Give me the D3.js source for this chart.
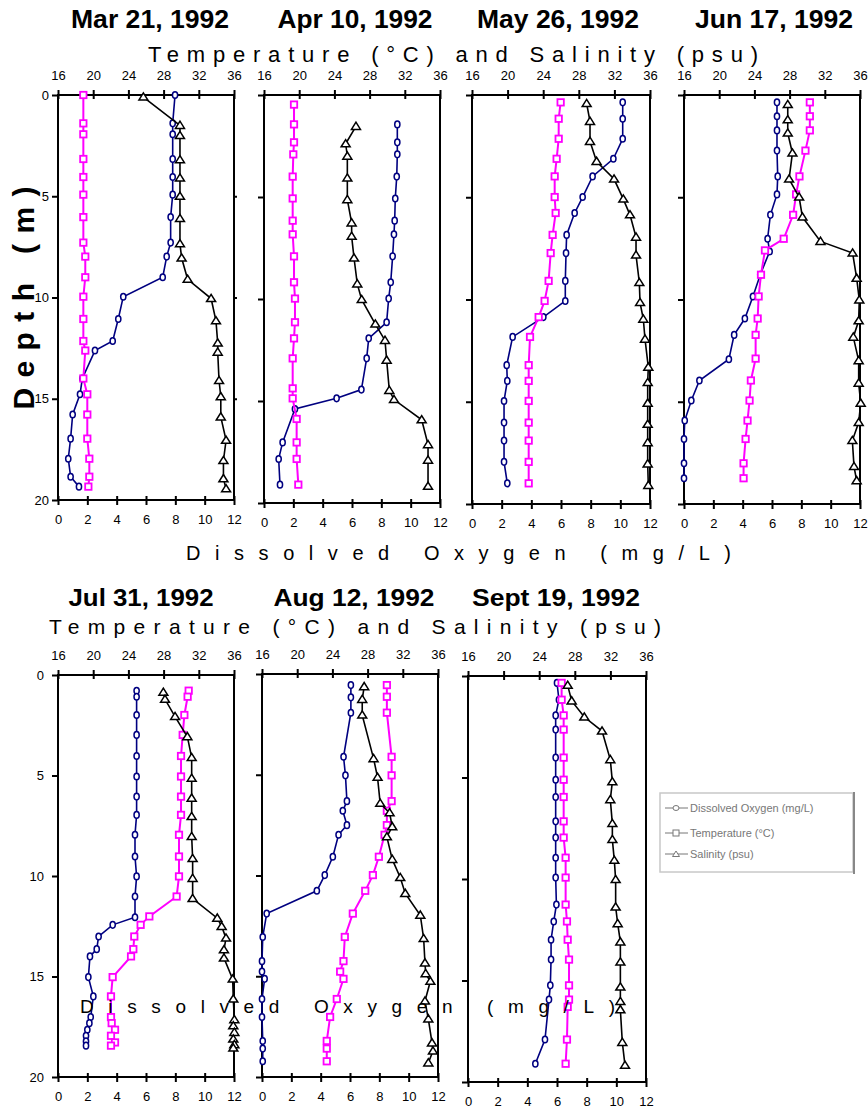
<!DOCTYPE html>
<html>
<head>
<meta charset="utf-8">
<script src="https://cdn.jsdelivr.net/npm/d3@7"></script>
<style>
  body { margin: 0; background: #fff; }
  svg { display: block; font-family: "Liberation Sans", Arial, sans-serif; }
</style>
</head>
<body>
<svg width="868" height="1110"></svg>
<script>
// ---- data: [depth (m), value] ----
var titles = ["Mar 21, 1992", "Apr 10, 1992", "May 26, 1992", "Jun 17, 1992",
              "Jul 31, 1992", "Aug 12, 1992", "Sept 19, 1992"];

var tempTicks = [16, 20, 24, 28, 32, 36];
var oxyTicks = [0, 2, 4, 6, 8, 10, 12];
var depthTicks = [0, 5, 10, 15, 20];

var mar21DO = [[0,7.98],[1.4,7.82],[1.94,7.82],[3.16,7.82],[4.05,7.82],[4.92,7.82],[6.03,7.68],[7.29,7.68],[7.98,7.41],[9.0,7.14],[9.96,4.45],[11.06,4.11],[12.15,3.73],[12.62,2.52],[14.0,1.66],[14.78,1.5],[15.78,1.0],[16.97,0.86],[17.96,0.7],[18.85,0.86],[19.34,1.43]];
var mar21T = [[0,18.88],[1.4,18.88],[1.94,18.88],[3.16,18.88],[4.05,18.88],[4.92,18.88],[6.03,18.88],[7.29,18.88],[7.98,19.1],[9.0,19.1],[9.96,18.88],[11.06,18.88],[12.15,18.88],[12.62,19.1],[14.0,18.88],[14.78,19.33],[15.78,19.33],[16.97,19.33],[17.96,19.56],[18.85,19.56],[19.34,19.45]];
var mar21S = [[0.1,25.7],[1.5,29.86],[2.0,29.86],[3.2,29.86],[4.1,29.86],[5.0,29.86],[6.1,29.86],[7.35,29.86],[8.05,30.05],[9.1,30.73],[10.05,33.4],[11.15,33.95],[12.25,34.15],[12.7,34.15],[14.1,34.3],[14.9,34.5],[15.9,34.5],[17.05,35.1],[18.05,34.8],[18.95,34.8],[19.45,35.1]];

var apr10DO = [[1.44,9.09],[2.32,9.09],[2.91,9.09],[4.0,9.05],[5.07,8.95],[6.16,8.91],[6.83,8.86],[7.91,8.77],[9.18,8.64],[9.98,8.5],[11.14,8.36],[11.93,7.14],[12.91,7.0],[14.44,6.64],[14.87,4.95],[15.39,2.11],[17.03,1.27],[17.84,1.0],[19.1,1.09]];
var apr10T = [[0.47,19.41],[1.44,19.41],[2.32,19.41],[2.91,19.33],[4.0,19.26],[5.07,19.26],[6.16,19.26],[6.83,19.26],[7.91,19.41],[9.18,19.41],[9.98,19.52],[11.14,19.52],[11.93,19.41],[12.91,19.26],[14.38,19.26],[14.87,19.26],[15.88,19.71],[17.03,19.71],[17.84,19.71],[19.1,19.9]];
var apr10S = [[1.54,26.45],[2.39,25.28],[3.0,25.47],[4.07,25.47],[5.13,25.47],[6.27,25.96],[6.93,25.96],[7.99,26.23],[9.26,26.6],[10.03,27.1],[11.23,28.65],[12.03,29.75],[13.0,29.94],[14.48,30.24],[14.93,30.77],[15.92,33.92],[17.14,34.64],[17.9,34.64],[19.18,34.64]];

var may26DO = [[0.36,10.16],[1.16,10.16],[2.14,10.16],[3.12,9.53],[3.98,8.13],[4.99,7.46],[5.77,6.92],[6.84,6.38],[7.73,6.34],[9.09,6.29],[10.07,6.29],[10.86,4.81],[11.83,2.74],[13.21,2.34],[13.98,2.38],[14.96,2.16],[16.02,2.16],[16.9,2.16],[17.94,2.16],[18.99,2.38]];
var may26T = [[0.36,25.96],[1.16,25.74],[2.14,25.74],[3.12,25.51],[3.98,25.29],[4.99,25.29],[5.77,25.4],[6.84,25.06],[7.73,24.84],[9.09,24.61],[10.07,24.16],[10.86,23.49],[11.83,22.52],[13.21,22.37],[13.98,22.37],[14.96,22.37],[16.02,22.37],[16.9,22.37],[17.94,22.37],[18.99,22.37]];
var may26S = [[0.42,28.88],[1.29,29.26],[2.27,29.26],[3.25,30.0],[4.11,31.96],[5.09,33.0],[5.86,33.75],[6.95,34.43],[7.83,34.43],[9.17,34.8],[10.15,34.88],[10.96,35.25],[11.94,35.44],[13.31,35.81],[14.06,35.74],[15.07,35.74],[16.1,35.74],[17.0,35.74],[18.04,35.74],[19.09,35.81]];

var jun17DO = [[0.36,6.34],[1.04,6.34],[1.73,6.34],[2.72,6.34],[3.98,6.39],[4.86,6.34],[5.86,5.89],[7.03,5.7],[7.65,5.84],[8.79,5.2],[9.85,4.7],[10.93,4.15],[11.73,3.42],[12.92,3.06],[13.96,1.05],[14.94,0.5],[15.92,0.05],[16.82,0],[18.01,0],[18.74,0]];
var jun17T = [[0.36,30.3],[1.04,30.3],[1.73,30.3],[2.72,29.8],[3.98,29.12],[4.86,28.74],[5.86,28.4],[7.03,27.33],[7.6,25.2],[8.79,24.75],[9.85,24.48],[10.93,24.37],[11.73,24.14],[12.89,24.14],[13.96,23.6],[14.94,23.45],[15.92,23.22],[16.82,23.0],[18.01,22.77],[18.74,22.77]];
var jun17S = [[0.47,27.79],[1.21,27.79],[1.86,27.79],[2.84,28.32],[4.11,27.94],[4.99,29.08],[5.97,29.46],[7.16,31.51],[7.73,35.16],[8.96,35.62],[10.02,35.92],[11.04,35.85],[11.84,35.24],[12.99,35.85],[14.09,35.85],[15.07,36.08],[16.02,35.85],[16.9,35.13],[18.17,35.32],[18.86,35.62]];

var jul31DO = [[0.78,5.36],[1.08,5.36],[1.99,5.36],[2.98,5.36],[4.03,5.36],[5.05,5.36],[6.05,5.36],[6.96,5.36],[7.95,5.25],[9.03,5.25],[10.02,5.36],[11.02,5.25],[12.05,5.25],[12.43,3.73],[13.01,2.77],[13.64,2.64],[14.0,2.18],[15.03,2.07],[15.99,2.41],[17.02,2.23],[17.32,2.14],[17.65,2.0],[17.95,1.91],[18.23,1.91],[18.44,1.91]];
var jul31T = [[0.78,30.85],[1.08,30.73],[1.99,30.36],[2.98,30.17],[4.03,29.98],[5.05,29.98],[6.05,29.98],[6.96,29.98],[7.95,29.75],[9.03,29.75],[10.02,29.75],[11.02,29.48],[12.01,26.38],[12.43,25.39],[13.01,24.67],[13.64,24.56],[14.0,24.3],[15.03,22.21],[15.99,22.02],[17.02,22.02],[17.32,22.1],[17.65,22.48],[17.95,22.02],[18.28,22.48],[18.44,22.02]];
var jul31S = [[0.86,27.97],[1.21,28.16],[2.07,29.3],[3.07,30.7],[4.11,31.19],[5.14,31.19],[6.13,31.19],[7.04,31.19],[8.04,31.19],[9.13,31.3],[10.12,31.3],[11.12,31.3],[12.1,34.1],[12.51,34.6],[13.09,35.09],[13.67,34.86],[14.08,34.86],[15.13,35.85],[16.12,35.92],[17.15,36.04],[17.45,35.92],[17.78,36.04],[18.11,35.92],[18.39,36.04],[18.56,35.92]];

var aug12DO = [[0.55,6.06],[1.16,6.06],[1.92,6.06],[4.11,5.56],[5.03,5.69],[6.31,5.79],[6.79,5.51],[7.5,5.79],[7.98,5.22],[9.07,4.83],[9.98,4.28],[10.76,3.74],[11.89,0.32],[13.05,0.05],[14.25,0],[14.77,0],[15.13,0.18],[16.13,0],[17.02,0],[18.21,0.05],[18.59,0.05],[19.22,0.05]];
var aug12T = [[0.55,30.19],[1.13,30.19],[1.92,30.19],[4.11,30.73],[5.03,30.73],[6.31,30.73],[6.79,30.19],[7.5,30.19],[7.98,29.93],[9.07,29.28],[9.98,28.6],[10.76,27.73],[11.89,26.32],[13.05,25.41],[14.25,25.26],[14.77,24.88],[15.13,25.26],[16.13,24.5],[17.02,23.74],[18.21,23.36],[18.59,23.36],[19.22,23.36]];
var aug12S = [[0.63,27.61],[1.26,27.39],[2.04,27.39],[4.2,28.68],[5.13,29.13],[6.42,29.43],[6.89,30.5],[7.58,30.8],[8.08,30.19],[9.2,30.8],[10.1,31.71],[10.89,32.28],[11.97,33.99],[13.13,34.37],[14.34,34.52],[14.87,34.6],[15.25,35.13],[16.23,34.52],[17.12,34.9],[18.31,35.32],[18.71,35.43],[19.3,34.9]];

var sep19DO = [[0.34,6.0],[1.17,6.13],[1.94,5.91],[2.64,5.91],[4.02,5.91],[5.11,5.91],[5.96,5.91],[7.16,5.91],[7.96,5.91],[8.95,5.91],[9.93,5.91],[11.26,5.96],[12.09,5.78],[12.99,5.6],[13.97,5.6],[15.24,5.55],[15.94,5.46],[17.91,5.19],[19.1,4.54]];
var sep19T = [[0.34,26.52],[1.17,26.52],[1.94,26.75],[2.64,26.75],[4.02,26.75],[5.11,26.75],[5.96,26.75],[7.16,26.75],[7.96,26.75],[8.95,26.97],[9.93,26.97],[11.26,26.97],[12.09,27.12],[12.99,27.2],[13.97,27.35],[15.24,27.35],[15.94,27.35],[16.3,27.2],[17.91,27.12],[19.1,26.97]];
var sep19S = [[0.46,27.2],[1.23,27.65],[2.02,29.07],[2.71,31.06],[4.12,31.99],[5.21,32.22],[6.09,31.99],[7.27,32.22],[8.06,32.22],[9.08,32.44],[10.03,32.59],[11.38,32.59],[12.2,32.82],[13.1,33.12],[14.09,33.12],[15.32,33.12],[16.04,33.12],[16.44,33.12],[18.05,33.34],[19.18,33.64]];

var oxySeries = [mar21DO, apr10DO, may26DO, jun17DO, jul31DO, aug12DO, sep19DO];
var tempSeries = [mar21T, apr10T, may26T, jun17T, jul31T, aug12T, sep19T];
var salSeries = [mar21S, apr10S, may26S, jun17S, jul31S, aug12S, sep19S];

var legendLabels = ["Dissolved Oxygen (mg/L)", "Temperature (\u00B0C)", "Salinity (psu)"];

// ---- layout of each panel box (pixels) ----
var boxes = [
  {x0: 58,  x1: 234, y0: 95,  y1: 500, lab: 9,  tx: 150, ty: 28,  tw: 158, fs: 26},
  {x0: 264, x1: 440, y0: 95,  y1: 503, lab: 0,  tx: 355, ty: 28,  tw: 155, fs: 26},
  {x0: 472, x1: 650, y0: 95,  y1: 504, lab: 0,  tx: 558, ty: 28,  tw: 162, fs: 26},
  {x0: 684, x1: 860, y0: 95,  y1: 504, lab: 0,  tx: 774, ty: 28,  tw: 158, fs: 26},
  {x0: 58,  x1: 234, y0: 675, y1: 1077, lab: 14, tx: 141, ty: 606, tw: 145, fs: 24},
  {x0: 262, x1: 438, y0: 674, y1: 1077, lab: 0,  tx: 354, ty: 606, tw: 161, fs: 24},
  {x0: 468, x1: 646, y0: 676, y1: 1082, lab: 0,  tx: 556, ty: 606, tw: 168, fs: 24}
];

var NAVY = "#000080", MAGENTA = "#ff00ff";
var svg = d3.select("svg");

var line = d3.line();
var triPath = "M-4.5,3L0,-4.2L4.5,3Z";

function drawSeries(g, data, xs, ys, color, width, marker) {
  g.append("path")
      .datum(data)
      .attr("fill", "none")
      .attr("stroke", color)
      .attr("stroke-width", width)
      .attr("d", line.x(function(d) { return xs(d[1]); }).y(function(d) { return ys(d[0]); }));

  var m = g.append("g").selectAll("g")
    .data(data)
    .enter().append("g")
      .attr("transform", function(d) { return "translate(" + xs(d[1]) + "," + ys(d[0]) + ")"; });

  if (marker == "circle") {
    m.append("ellipse").attr("rx", 2.6).attr("ry", 3.3)
        .attr("fill", "#fff").attr("stroke", color).attr("stroke-width", 1.5);
  } else if (marker == "square") {
    m.append("rect").attr("x", -3.2).attr("y", -3.2).attr("width", 6.4).attr("height", 6.4)
        .attr("fill", "#fff").attr("stroke", color).attr("stroke-width", 1.8);
  } else {
    m.append("path").attr("d", triPath)
        .attr("fill", "#fff").attr("stroke", color).attr("stroke-width", 1.5);
  }
}

boxes.forEach(function(b, i) {
  var g = svg.append("g");

  var yDepth = d3.scaleLinear().domain([0, 20]).range([b.y0, b.y1]);
  var xTS = d3.scaleLinear().domain([16, 36]).range([b.x0, b.x1]);
  var xDO = d3.scaleLinear().domain([0, 12]).range([b.x0, b.x1]);

  // title
  g.append("text")
      .attr("x", b.tx).attr("y", b.ty)
      .attr("text-anchor", "middle")
      .attr("font-weight", "bold")
      .attr("font-size", b.fs)
      .attr("textLength", b.tw)
      .attr("lengthAdjust", "spacingAndGlyphs")
      .text(titles[i]);

  // temperature / salinity axis on top
  var top = g.append("g")
      .attr("transform", "translate(0," + b.y0 + ")")
      .call(d3.axisTop(xTS).tickValues(tempTicks).tickSize(5).tickPadding(10));
  top.selectAll(".tick line").attr("y1", 4).attr("stroke-width", 2);
  top.selectAll(".tick text").attr("font-size", 13).attr("font-family", "Liberation Sans, Arial");

  // oxygen axis at the bottom
  var bot = g.append("g")
      .attr("transform", "translate(0," + b.y1 + ")")
      .call(d3.axisBottom(xDO).tickValues(oxyTicks).tickSize(5).tickPadding(10));
  bot.selectAll(".tick line").attr("y1", -4).attr("stroke-width", 2);
  bot.selectAll(".tick text").attr("font-size", 13).attr("font-family", "Liberation Sans, Arial");

  // depth axis
  var left = g.append("g")
      .attr("transform", "translate(" + b.x0 + ",0)")
      .call(d3.axisLeft(yDepth).tickValues(depthTicks).tickSize(6).tickPadding(b.lab - 6));
  left.selectAll(".tick line").attr("x1", 1).attr("stroke-width", 2);
  left.selectAll(".tick text").attr("font-size", 13).attr("font-family", "Liberation Sans, Arial");
  if (!b.lab) left.selectAll(".tick text").remove();
  if (i == 0) {
    var right = g.append("g")
        .attr("transform", "translate(" + b.x1 + ",0)")
        .call(d3.axisRight(yDepth).tickValues([5, 10, 15]).tickSize(3).tickFormat(""));
    right.selectAll(".tick line").attr("stroke-width", 2);
    right.select(".domain").remove();
  }
  g.selectAll(".domain").remove();

  // plot frame
  g.append("rect")
      .attr("x", b.x0).attr("y", b.y0)
      .attr("width", b.x1 - b.x0).attr("height", b.y1 - b.y0)
      .attr("fill", "none").attr("stroke", "#000").attr("stroke-width", 2);

  drawSeries(g, oxySeries[i], xDO, yDepth, NAVY, 1.6, "circle");
  drawSeries(g, tempSeries[i], xTS, yDepth, MAGENTA, 2, "square");
  drawSeries(g, salSeries[i], xTS, yDepth, "#000", 1.6, "triangle");
});

// shared axis titles (letter-spaced like the original)
function spacedLabel(x, y, w, size, txt) {
  svg.append("text")
      .attr("x", x).attr("y", y)
      .attr("font-size", size)
      .attr("textLength", w)
      .attr("lengthAdjust", "spacing")
      .text(txt);
}
spacedLabel(148, 62, 610, 22, "Temperature (\u00B0C) and Salinity (psu)");
spacedLabel(49, 634, 612, 21, "Temperature (\u00B0C) and Salinity (psu)");
spacedLabel(186, 560, 545, 20, "Dissolved Oxygen (mg/L)");
spacedLabel(80, 1013, 535, 19, "Dissolved Oxygen (mg/L)");

svg.append("text")
    .attr("transform", "translate(34,298) rotate(-90)")
    .attr("text-anchor", "middle")
    .attr("font-weight", "bold")
    .attr("font-size", 30)
    .attr("textLength", 223)
    .attr("lengthAdjust", "spacing")
    .text("Depth (m)");

// legend
var lg = svg.append("g").attr("transform", "translate(660,793)");
lg.append("rect").attr("width", 193).attr("height", 79)
    .attr("fill", "#fff").attr("stroke", "#c8c8c8").attr("stroke-width", 1.5);
lg.append("line").attr("x1", 194).attr("x2", 194).attr("y1", -1).attr("y2", 81)
    .attr("stroke", "#888").attr("stroke-width", 2);

var legendY = [15, 40, 61];
var lgItem = lg.selectAll(".item")
  .data(legendLabels)
  .enter().append("g")
    .attr("class", "item")
    .attr("transform", function(d, k) { return "translate(0," + legendY[k] + ")"; });
lgItem.append("line").attr("x1", 5).attr("x2", 28).attr("stroke", "#777").attr("stroke-width", 1);
lgItem.each(function(d, k) {
  var s = d3.select(this);
  if (k == 0) s.append("ellipse").attr("cx", 16).attr("rx", 3).attr("ry", 2.5).attr("fill", "#fff").attr("stroke", "#777");
  if (k == 1) s.append("rect").attr("x", 13).attr("y", -3).attr("width", 6).attr("height", 6).attr("fill", "#fff").attr("stroke", "#777");
  if (k == 2) s.append("path").attr("d", "M12.5,2.5L16,-3L19.5,2.5Z").attr("fill", "#fff").attr("stroke", "#777");
});
lgItem.append("text")
    .attr("x", 30).attr("dy", "0.35em")
    .attr("font-size", 11)
    .attr("fill", "#777")
    .text(function(d) { return d; });
</script>
</body>
</html>
